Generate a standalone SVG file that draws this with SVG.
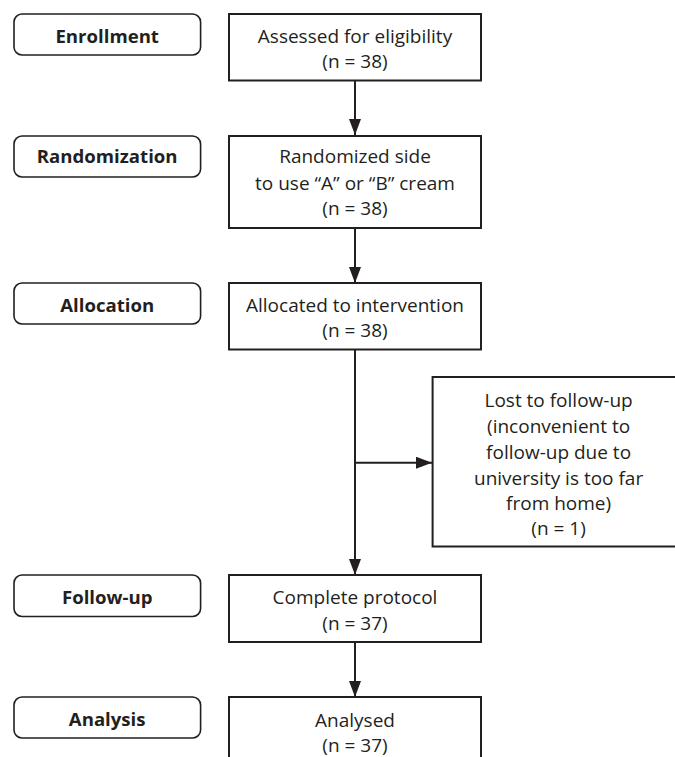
<svg xmlns="http://www.w3.org/2000/svg" width="675" height="757" viewBox="0 0 675 757">
<defs>
<style>
.lbl{fill:#fff;stroke:#231f20;stroke-width:1.6}
.box{fill:#fff;stroke:#231f20;stroke-width:2}
.lt{font-family:"Open Sans","DejaVu Sans",sans-serif;font-weight:bold;font-size:18.6px;fill:#231f20;text-anchor:middle}
.bt{font-family:"Open Sans","DejaVu Sans",sans-serif;font-size:19px;fill:#231f20;text-anchor:middle}
.ln{stroke:#231f20;stroke-width:2;fill:none}
</style>
<marker id="ah" viewBox="0 0 16 12" refX="16" refY="6" markerWidth="16" markerHeight="12" markerUnits="userSpaceOnUse" orient="auto">
<path d="M0,0 L16,6 L0,12 Z" fill="#231f20"/>
</marker>
</defs>
<rect width="675" height="757" fill="#fff"/>
<g id="connectors">
<line class="ln" x1="355" y1="81" x2="355" y2="135" marker-end="url(#ah)"/>
<line class="ln" x1="355" y1="228" x2="355" y2="283" marker-end="url(#ah)"/>
<line class="ln" x1="355" y1="350" x2="355" y2="575" marker-end="url(#ah)"/>
<line class="ln" x1="355" y1="462.7" x2="432" y2="462.7" marker-end="url(#ah)"/>
<line class="ln" x1="355" y1="642" x2="355" y2="697" marker-end="url(#ah)"/>
</g>
<g id="label-enrollment">
<rect class="lbl" x="14" y="14" width="186.6" height="41" rx="8"/>
<text class="lt" x="107.2" y="42.7">Enrollment</text>
</g>
<g id="label-randomization">
<rect class="lbl" x="14" y="136" width="186.6" height="41" rx="8"/>
<text class="lt" x="107.2" y="163">Randomization</text>
</g>
<g id="label-allocation">
<rect class="lbl" x="14" y="283" width="186.6" height="41" rx="8"/>
<text class="lt" x="107.2" y="311.5">Allocation</text>
</g>
<g id="label-followup">
<rect class="lbl" x="14" y="575" width="186.6" height="41.5" rx="8"/>
<text class="lt" x="107.2" y="604">Follow-up</text>
</g>
<g id="label-analysis">
<rect class="lbl" x="14" y="697" width="186.6" height="41" rx="8"/>
<text class="lt" x="107.2" y="726">Analysis</text>
</g>
<g id="box-assessed">
<rect class="box" x="229" y="14" width="252" height="66.5"/>
<text class="bt" x="355" y="43">Assessed for eligibility</text>
<text class="bt" x="355" y="68">(n = 38)</text>
</g>
<g id="box-randomized">
<rect class="box" x="229" y="136" width="252" height="92"/>
<text class="bt" x="355" y="163">Randomized side</text>
<text class="bt" x="355" y="189.5">to use “A” or “B” cream</text>
<text class="bt" x="355" y="215">(n = 38)</text>
</g>
<g id="box-allocated">
<rect class="box" x="229" y="283" width="252" height="66.5"/>
<text class="bt" x="355" y="312">Allocated to intervention</text>
<text class="bt" x="355" y="336.5">(n = 38)</text>
</g>
<g id="box-lost">
<rect class="box" x="432.6" y="377" width="252" height="169.5"/>
<text class="bt" x="558.6" y="406.5">Lost to follow-up</text>
<text class="bt" x="558.6" y="432.5">(inconvenient to</text>
<text class="bt" x="558.6" y="458.5">follow-up due to</text>
<text class="bt" x="558.6" y="484.5">university is too far</text>
<text class="bt" x="558.6" y="510">from home)</text>
<text class="bt" x="558.6" y="534.5">(n = 1)</text>
</g>
<g id="box-complete">
<rect class="box" x="229" y="575" width="252" height="67"/>
<text class="bt" x="355" y="604">Complete protocol</text>
<text class="bt" x="355" y="630">(n = 37)</text>
</g>
<g id="box-analysed">
<rect class="box" x="229" y="697" width="252" height="80"/>
<text class="bt" x="355" y="726.5">Analysed</text>
<text class="bt" x="355" y="751.5">(n = 37)</text>
</g>
</svg>
